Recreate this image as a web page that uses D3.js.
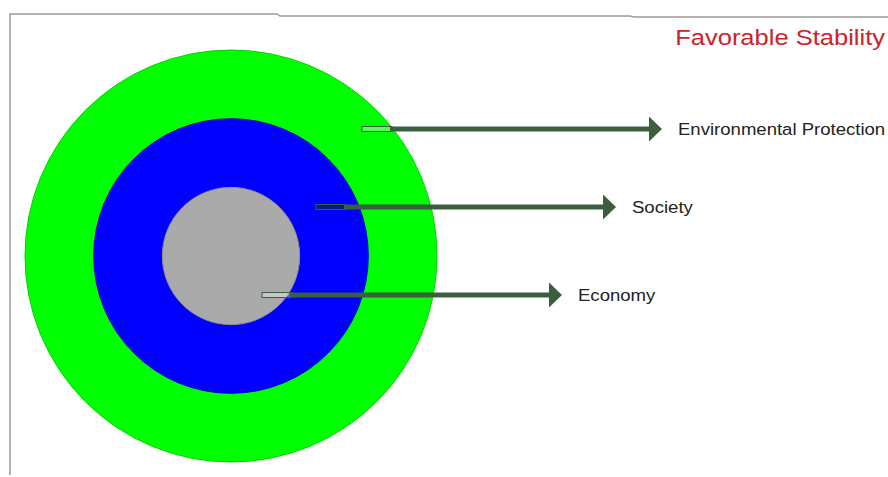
<!DOCTYPE html>
<html>
<head>
<meta charset="utf-8">
<script src="https://cdn.jsdelivr.net/npm/d3@7"></script>
<style>
  body { margin: 0; background: #fff; }
  svg { display: block; font-family: "Liberation Sans", Arial, sans-serif; }
</style>
</head>
<body>
<div id="chart"></div>
<script>
// Nested rings: outermost first
const rings = ['Environmental Protection', 'Society', 'Economy'];
const ringLevels = [3, 2, 1];
const ringColors = ['#00ff00', '#0000ff', '#aaaaaa'];
const title = 'Favorable Stability';

const width = 888, height = 477;
const cx = 231, cy = 256;
const stretch = 1.16; // text in the source is a bit wide

const svg = d3.select('#chart')
  .append('svg')
  .attr('width', width)
  .attr('height', height);

// frame lines (scanned look)
svg.append('path')
  .attr('d', 'M10,475 L10,14 L277,14 L280,16 L630,16 L634,17 L888,17')
  .attr('fill', 'none')
  .attr('stroke', '#9a9a9a')
  .attr('stroke-width', 1.5);

// ring radius scale
const r = d3.scaleLinear().domain([0, 3]).range([0, 206]);

svg.selectAll('.ring')
  .data(rings)
  .enter()
  .append('circle')
  .attr('class', 'ring')
  .attr('cx', cx)
  .attr('cy', cy)
  .attr('r', (d, i) => r(ringLevels[i]))
  .attr('fill', (d, i) => ringColors[i])
  .attr('stroke', (d, i) => d3.color(ringColors[i]).darker(0.5))
  .attr('stroke-width', 1);

// arrows: start inside each ring, run right
const arrowY = d3.scaleOrdinal().domain(rings).range([129, 207, 295]);
const arrowX0 = d3.scaleOrdinal().domain(rings).range([362, 316, 262]);
const arrowLen = 300;
const green = '#3b5e3f';

const arrows = svg.selectAll('.arrow')
  .data(rings)
  .enter()
  .append('g')
  .attr('class', 'arrow')
  .attr('transform', d => `translate(${arrowX0(d)},${arrowY(d)})`);

// hollow tail
arrows.append('rect')
  .attr('x', 0)
  .attr('y', -2.5)
  .attr('width', 30)
  .attr('height', 5)
  .attr('fill', (d, i) => i === 1 ? 'rgba(20,40,60,0.6)' : 'rgba(255,255,255,0.35)')
  .attr('stroke', green)
  .attr('stroke-width', 1);

// solid shaft
arrows.append('rect')
  .attr('x', 28)
  .attr('y', -2.5)
  .attr('width', arrowLen - 40)
  .attr('height', 5)
  .attr('fill', green);

// head
arrows.append('path')
  .attr('d', `M${arrowLen - 13},-12.5 L${arrowLen},0 L${arrowLen - 13},12.5 Z`)
  .attr('fill', green);

arrows.append('text')
  .attr('transform', `translate(${arrowLen + 16},6) scale(${stretch},1)`)
  .attr('font-size', 16)
  .attr('fill', '#222')
  .text(d => d);

svg.append('text')
  .attr('transform', `translate(885,45) scale(${stretch},1)`)
  .attr('text-anchor', 'end')
  .attr('font-size', 22)
  .attr('fill', '#cc2229')
  .text(title);
</script>
</body>
</html>
